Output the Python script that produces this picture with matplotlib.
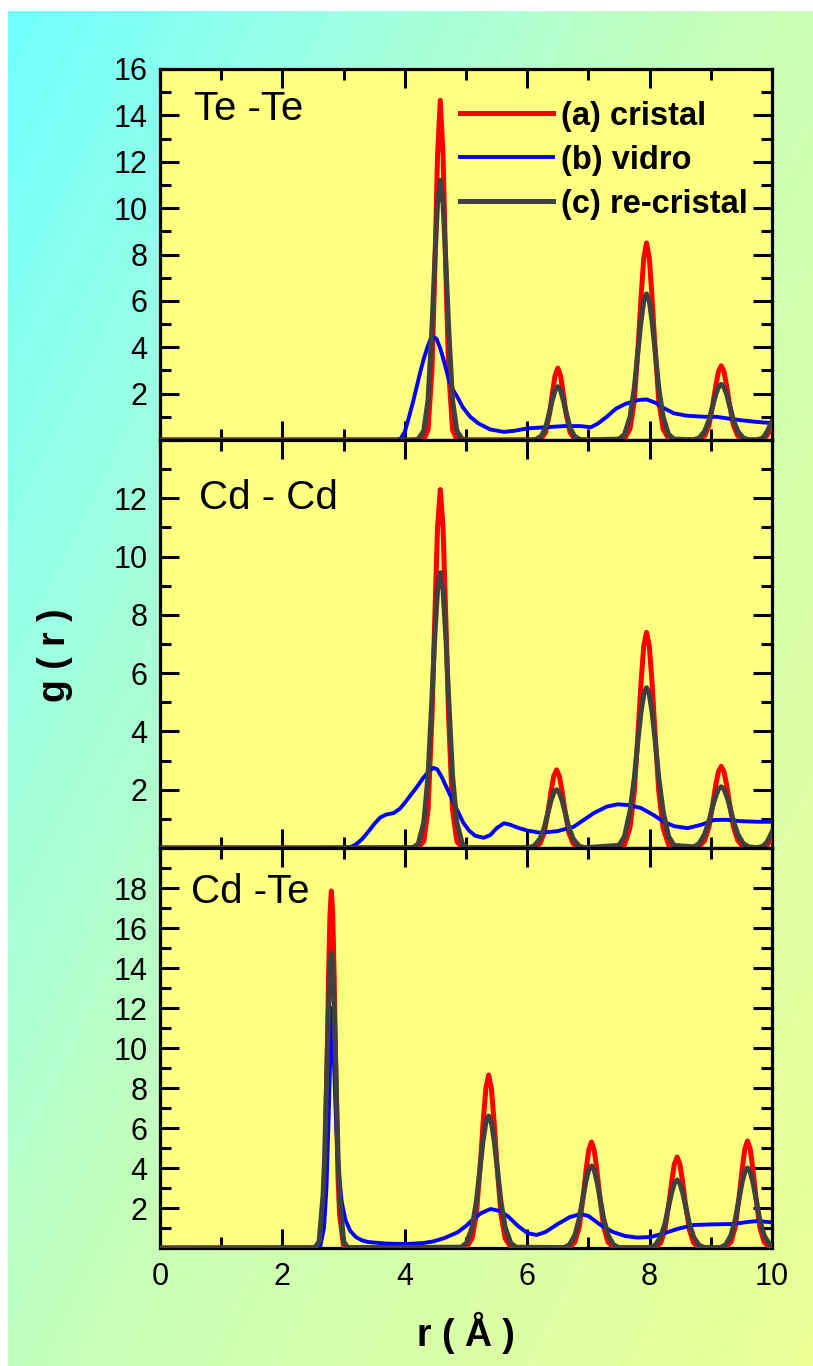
import numpy as np
import matplotlib
matplotlib.use('Agg')
import matplotlib.pyplot as plt
from matplotlib.ticker import MultipleLocator, FuncFormatter

plt.rcParams['font.family'] = ['Liberation Sans', 'DejaVu Sans']

# ---------------- data ----------------
series_labels = ['(a) cristal', '(b) vidro', '(c) re-cristal']
panel_titles = ['Te -Te', 'Cd - Cd', 'Cd -Te']
y_tops = [16, 14, 20]
y_labeled = [[2, 4, 6, 8, 10, 12, 14, 16],
             [2, 4, 6, 8, 10, 12],
             [2, 4, 6, 8, 10, 12, 14, 16, 18]]
x_tick_labels = ['0', '2', '4', '6', '8', '10']

# Te-Te
r_TeTe = [0.0, 4.13, 4.22, 4.31, 4.38, 4.445, 4.49, 4.535, 4.58, 4.625, 4.67, 4.715, 4.78, 4.85, 4.94, 5.03,
          6.05, 6.14, 6.23, 6.30, 6.365, 6.41, 6.455, 6.50, 6.545, 6.59, 6.635, 6.70, 6.77, 6.86, 6.95,
          7.50, 7.59, 7.68, 7.75, 7.815, 7.86, 7.905, 7.95, 7.995, 8.04, 8.085, 8.15, 8.22, 8.31, 8.40,
          8.72, 8.81, 8.90, 8.97, 9.035, 9.08, 9.125, 9.17, 9.215, 9.26, 9.305, 9.37, 9.44, 9.53, 9.62,
          9.75, 9.85, 9.92, 10.0]
cristal_TeTe = [0, 0, 0, 0.03, 0.44, 3.1, 7.3, 12.3, 14.65, 12.3, 7.3, 3.1, 0.44, 0.03, 0, 0,
                0, 0, 0.06, 0.33, 1.14, 1.99, 2.77, 3.1, 2.77, 1.99, 1.14, 0.33, 0.06, 0, 0,
                0, 0.05, 0.48, 1.68, 4.14, 6.17, 7.85, 8.5, 7.85, 6.17, 4.14, 1.68, 0.48, 0.05, 0,
                0, 0.02, 0.18, 0.63, 1.56, 2.32, 2.95, 3.2, 2.95, 2.32, 1.56, 0.63, 0.18, 0.02, 0,
                0, 0.03, 0.2, 0.6]
recristal_TeTe = [0, 0, 0.03, 0.40, 1.72, 4.9, 7.7, 10.2, 11.2, 10.2, 7.7, 4.9, 1.72, 0.40, 0.03, 0,
                  0, 0.02, 0.17, 0.53, 1.20, 1.72, 2.14, 2.3, 2.14, 1.72, 1.20, 0.53, 0.17, 0.02, 0,
                  0.04, 0.24, 1.0, 2.24, 3.98, 5.13, 5.99, 6.3, 5.99, 5.13, 3.98, 2.24, 1.0, 0.24, 0.04,
                  0.01, 0.09, 0.38, 0.85, 1.51, 1.96, 2.28, 2.4, 2.28, 1.96, 1.51, 0.85, 0.38, 0.09, 0.01,
                  0.01, 0.08, 0.35, 0.8]
r_vidro_TeTe = [0.0, 3.85, 3.93, 4.00, 4.07, 4.14, 4.20, 4.25, 4.31, 4.37, 4.42, 4.47, 4.52, 4.58, 4.65,
                4.72, 4.79, 4.86, 4.95, 5.07, 5.20, 5.40, 5.62, 5.80, 6.00, 6.30, 6.60, 6.87, 7.04, 7.15,
                7.30, 7.45, 7.60, 7.80, 7.95, 8.10, 8.25, 8.40, 8.60, 8.90, 9.10, 9.30, 9.50, 9.75, 10.0]
vidro_TeTe = [0, 0, 0.05, 0.35, 1.0, 1.7, 2.35, 2.9, 3.5, 4.0, 4.35, 4.45, 4.35, 3.95, 3.3,
              2.6, 2.15, 1.85, 1.4, 1.0, 0.72, 0.45, 0.35, 0.4, 0.5, 0.55, 0.6, 0.6, 0.55, 0.7,
              1.0, 1.35, 1.55, 1.72, 1.75, 1.6, 1.35, 1.15, 1.05, 1.0, 1.0, 0.92, 0.85, 0.78, 0.73]

# Cd-Cd
r_CdCd = [0.0, 4.13, 4.22, 4.31, 4.38, 4.445, 4.49, 4.535, 4.58, 4.625, 4.67, 4.715, 4.78, 4.85, 4.94, 5.03,
          6.03, 6.12, 6.21, 6.28, 6.345, 6.39, 6.435, 6.48, 6.525, 6.57, 6.615, 6.68, 6.75, 6.84, 6.93,
          7.50, 7.59, 7.68, 7.75, 7.815, 7.86, 7.905, 7.95, 7.995, 8.04, 8.085, 8.15, 8.22, 8.31, 8.40,
          8.72, 8.81, 8.90, 8.97, 9.035, 9.08, 9.125, 9.17, 9.215, 9.26, 9.305, 9.37, 9.44, 9.53, 9.62,
          9.75, 9.85, 9.92, 10.0]
cristal_CdCd = [0, 0, 0.01, 0.23, 1.30, 4.54, 7.90, 11.0, 12.3, 11.0, 7.90, 4.54, 1.30, 0.23, 0.01, 0,
                0, 0.02, 0.15, 0.53, 1.31, 1.95, 2.47, 2.68, 2.47, 1.95, 1.31, 0.53, 0.15, 0.02, 0,
                0.01, 0.11, 0.69, 1.94, 4.08, 5.68, 6.93, 7.4, 6.93, 5.68, 4.08, 1.94, 0.69, 0.11, 0.01,
                0, 0.04, 0.26, 0.73, 1.54, 2.15, 2.62, 2.8, 2.62, 2.15, 1.54, 0.73, 0.26, 0.04, 0,
                0, 0.02, 0.1, 0.35]
recristal_CdCd = [0, 0.01, 0.14, 0.88, 2.48, 5.21, 7.26, 8.85, 9.45, 8.85, 7.26, 5.21, 2.48, 0.88, 0.14, 0.01,
                  0.01, 0.08, 0.32, 0.71, 1.26, 1.63, 1.90, 2.0, 1.90, 1.63, 1.26, 0.71, 0.32, 0.08, 0.01,
                  0.09, 0.40, 1.27, 2.40, 3.81, 4.67, 5.28, 5.5, 5.28, 4.67, 3.81, 2.40, 1.27, 0.40, 0.09,
                  0.04, 0.15, 0.48, 0.92, 1.46, 1.78, 2.02, 2.1, 2.02, 1.78, 1.46, 0.92, 0.48, 0.15, 0.04,
                  0.01, 0.06, 0.2, 0.55]
r_vidro_CdCd = [0.0, 3.00, 3.11, 3.20, 3.30, 3.40, 3.50, 3.60, 3.70, 3.82, 3.92, 4.00, 4.09, 4.20, 4.30,
                4.40, 4.47, 4.53, 4.60, 4.70, 4.80, 4.88, 4.96, 5.05, 5.15, 5.29, 5.40, 5.50, 5.62, 5.72,
                5.84, 6.00, 6.22, 6.50, 6.76, 6.95, 7.09, 7.30, 7.48, 7.67, 7.86, 8.05, 8.23, 8.40, 8.62,
                8.85, 9.05, 9.25, 9.49, 9.75, 10.0]
vidro_CdCd = [0, 0, 0.03, 0.12, 0.3, 0.55, 0.82, 1.05, 1.15, 1.2, 1.35, 1.55, 1.8, 2.1, 2.4,
              2.65, 2.75, 2.7, 2.45, 2.0, 1.55, 1.2, 0.85, 0.6, 0.42, 0.35, 0.45, 0.68, 0.85, 0.8,
              0.7, 0.6, 0.52, 0.58, 0.73, 1.0, 1.2, 1.42, 1.5, 1.47, 1.37, 1.15, 0.9, 0.75, 0.68,
              0.8, 0.96, 0.97, 0.92, 0.9, 0.9]

# Cd-Te
r_CdTe = [0.0, 2.53, 2.60, 2.665, 2.69, 2.71, 2.733, 2.755, 2.778, 2.80, 2.822, 2.845, 2.867, 2.89, 2.91, 2.935, 3.00, 3.07,
          4.92, 5.01, 5.10, 5.17, 5.235, 5.28, 5.325, 5.37, 5.415, 5.46, 5.505, 5.57, 5.64, 5.73, 5.82,
          6.60, 6.69, 6.78, 6.85, 6.915, 6.96, 7.005, 7.05, 7.095, 7.14, 7.185, 7.25, 7.32, 7.41, 7.50,
          8.00, 8.09, 8.18, 8.25, 8.315, 8.36, 8.405, 8.45, 8.495, 8.54, 8.585, 8.65, 8.72, 8.81, 8.90,
          9.15, 9.24, 9.33, 9.40, 9.465, 9.51, 9.555, 9.60, 9.645, 9.69, 9.735, 9.80, 9.87, 9.96, 10.05]
cristal_CdTe = [0, 0, 0.09, 1.66, 3.42, 6.19, 9.84, 13.7, 16.7, 17.85, 16.7, 13.7, 9.84, 6.19, 3.42, 1.66, 0.09, 0,
                0, 0.05, 0.48, 1.71, 4.21, 6.28, 7.98, 8.65, 7.98, 6.28, 4.21, 1.71, 0.48, 0.05, 0,
                0, 0.03, 0.30, 1.05, 2.58, 3.85, 4.89, 5.3, 4.89, 3.85, 2.58, 1.05, 0.30, 0.03, 0,
                0, 0.03, 0.25, 0.90, 2.22, 3.30, 4.20, 4.55, 4.20, 3.30, 2.22, 0.90, 0.25, 0.03, 0,
                0, 0.03, 0.30, 1.06, 2.61, 3.88, 4.94, 5.35, 4.94, 3.88, 2.61, 1.06, 0.30, 0.05, 0.08]
recristal_CdTe = [0, 0.02, 0.32, 2.68, 4.52, 6.92, 9.63, 12.2, 14.1, 14.75, 14.1, 12.2, 9.63, 6.92, 4.52, 2.68, 0.32, 0.02,
                  0.04, 0.25, 1.04, 2.34, 4.16, 5.38, 6.27, 6.6, 6.27, 5.38, 4.16, 2.34, 1.04, 0.25, 0.04,
                  0.02, 0.16, 0.65, 1.46, 2.59, 3.34, 3.90, 4.1, 3.90, 3.34, 2.59, 1.46, 0.65, 0.16, 0.02,
                  0.02, 0.13, 0.54, 1.21, 2.15, 2.77, 3.23, 3.4, 3.23, 2.77, 2.15, 1.21, 0.54, 0.13, 0.02,
                  0.02, 0.15, 0.63, 1.42, 2.52, 3.26, 3.80, 4.0, 3.80, 3.26, 2.52, 1.42, 0.63, 0.18, 0.12]
r_vidro_CdTe = [0.0, 2.55, 2.62, 2.68, 2.72, 2.76, 2.80, 2.84, 2.88, 2.92, 2.97, 3.03, 3.11, 3.20, 3.30,
                3.40, 3.70, 4.04, 4.30, 4.47, 4.65, 4.86, 5.00, 5.12, 5.25, 5.40, 5.55, 5.68, 5.85, 6.00,
                6.15, 6.30, 6.50, 6.70, 6.87, 7.00, 7.20, 7.40, 7.60, 7.80, 8.02, 8.20, 8.45, 8.72, 9.00,
                9.38, 9.60, 9.77, 10.0]
vidro_CdTe = [0, 0, 0.1, 1.0, 3.0, 7.0, 12.0, 9.5, 6.0, 3.8, 2.3, 1.4, 0.85, 0.55, 0.38,
              0.3, 0.22, 0.2, 0.25, 0.33, 0.5, 0.78, 1.1, 1.45, 1.75, 1.95, 1.85, 1.6, 1.1, 0.75,
              0.65, 0.8, 1.2, 1.55, 1.7, 1.6, 1.15, 0.8, 0.6, 0.52, 0.55, 0.7, 0.95, 1.15, 1.18,
              1.2, 1.3, 1.35, 1.28]

panels = [
    (r_TeTe, cristal_TeTe, r_vidro_TeTe, vidro_TeTe, recristal_TeTe),
    (r_CdCd, cristal_CdCd, r_vidro_CdCd, vidro_CdCd, recristal_CdCd),
    (r_CdTe, cristal_CdTe, r_vidro_CdTe, vidro_CdTe, recristal_CdTe),
]

# ---------------- figure ----------------
W, H = 813, 1366
fig = plt.figure(figsize=(W / 100, H / 100), dpi=100)
fig.patch.set_facecolor('white')

# gradient background
bg = fig.add_axes([8 / W, 0, (W - 8) / W, (H - 11) / H])
bg.set_axis_off()
gx, gy = np.meshgrid(np.linspace(0, 1, 160), np.linspace(0, 1, 260))
s = 0.55 * gx + 0.45 * gy
stops = [0, 0.25, 0.5, 1.0]
Rc = np.interp(s, stops, [112, 160, 200, 236])
Gc = np.full_like(s, 255.0)
Bc = np.interp(s, stops, [255, 224, 184, 150])
bg.imshow(np.dstack([Rc, Gc, Bc]) / 255.0, aspect='auto', extent=(0, 1, 1, 0),
          interpolation='bilinear')
bg.set_xlim(0, 1)
bg.set_ylim(1, 0)

left_px, right_px = 160, 772
boxes = [(69, 440), (440, 848), (848, 1248)]
title_pos = [(0.055, 0.8625), (0.064, 0.831), (0.050, 0.8625)]

colors = ['#FF0000', '#0000FF', '#404040']
widths = [3.6, 2.8, 3.6]

axes = []
for i, (top_px, bot_px) in enumerate(boxes):
    ax = fig.add_axes([left_px / W, (H - bot_px) / H, (right_px - left_px) / W, (bot_px - top_px) / H])
    ax.set_facecolor('#FFFF80')
    r, cr, rv, vd, rc = panels[i]
    l1, = ax.plot(r, cr, color=colors[0], lw=widths[0], zorder=3, solid_joinstyle='round')
    l2, = ax.plot(rv, vd, color=colors[1], lw=widths[1], zorder=3, solid_joinstyle='round')
    l3, = ax.plot(r, rc, color=colors[2], lw=widths[2], zorder=3, solid_joinstyle='round')
    ax.set_xlim(0, 10)
    ax.set_ylim(0, y_tops[i])
    ax.xaxis.set_major_locator(MultipleLocator(2))
    ax.xaxis.set_minor_locator(MultipleLocator(1))
    ax.yaxis.set_major_locator(MultipleLocator(2))
    ax.yaxis.set_minor_locator(MultipleLocator(1))
    labeled = y_labeled[i]
    ax.yaxis.set_major_formatter(FuncFormatter(
        lambda v, p, lab=labeled: str(int(round(v))) if int(round(v)) in lab else ''))
    ax.tick_params(which='both', direction='in', top=True, right=True, width=2.2, color='black')
    ax.tick_params(which='major', length=14, labelsize=22)
    ax.tick_params(which='minor', length=8)
    ax.tick_params(axis='y', which='major', pad=9)
    ax.tick_params(axis='x', which='major', pad=10)
    for sp in ax.spines.values():
        sp.set_linewidth(2.3)
        sp.set_zorder(2.5)
    if i < 2:
        ax.tick_params(labelbottom=False)
    else:
        ax.set_xticks([0, 2, 4, 6, 8, 10])
        ax.set_xticklabels(x_tick_labels)
    tx, ty = title_pos[i]
    ax.text(tx, ty, panel_titles[i], transform=ax.transAxes, fontsize=29, va='baseline', ha='left')
    if i == 0:
        ax.legend([l1, l2, l3], series_labels, loc='upper left', bbox_to_anchor=(0.49, 0.915),
                  frameon=False, prop={'weight': 'bold', 'size': 23.5}, handlelength=2.85,
                  handletextpad=0.25, labelspacing=0.4, borderpad=0, borderaxespad=0)
    axes.append(ax)

fig.text(55 / W, 1 - 655 / H, 'g ( r )', rotation=90, fontsize=27, fontweight='bold',
         ha='center', va='center')
fig.text(466 / W, 1 - 1333 / H, 'r ( Å )', fontsize=27, fontweight='bold',
         ha='center', va='center')

fig.savefig('out.png', dpi=100)
